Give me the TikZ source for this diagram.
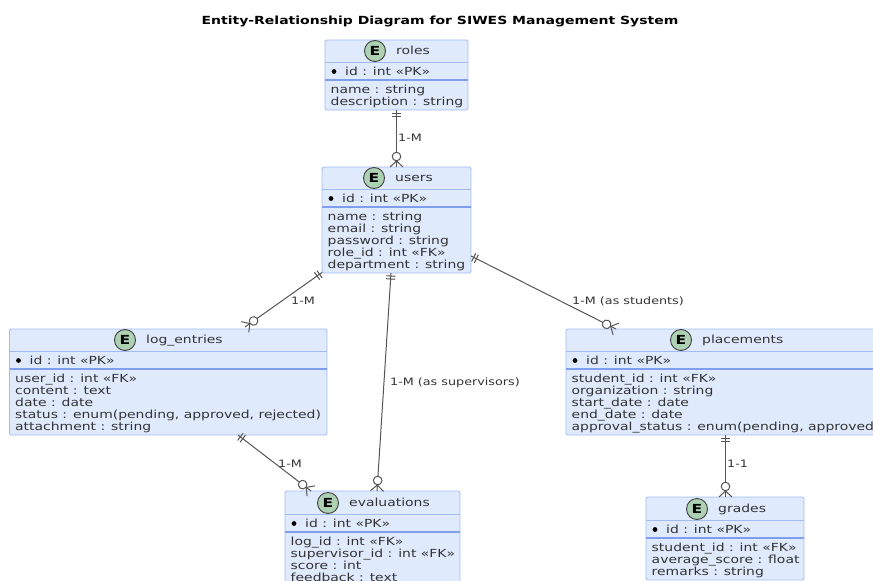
\documentclass[tikz,border=0pt]{standalone}
\usepackage{fontspec}
\setmainfont[FakeStretch=1.25]{DejaVu Sans}
\usetikzlibrary{calc}
\definecolor{boxfill}{HTML}{DFEAFD}
\definecolor{boxline}{HTML}{A3BBF2}
\definecolor{sepline}{HTML}{7F9FEC}
\definecolor{ebadge}{HTML}{ADD1B2}
\definecolor{txt}{HTML}{333333}
\definecolor{conn}{HTML}{555555}
\tikzset{
  x=1pt,y=-1pt,
  ebox/.style={draw=boxline,fill=boxfill,line width=0.9pt,rounded corners=1.5pt,inner sep=0pt,outer sep=0pt},
  ftext/.style={anchor=base west,inner sep=0pt,text=txt,font=\fontsize{11.15pt}{12pt}\selectfont},
  ttext/.style={anchor=base west,inner sep=0pt,text=txt,font=\fontsize{11.15pt}{12pt}\selectfont},
  rlabel/.style={anchor=base west,inner sep=0pt,text=txt,font=\fontsize{10.2pt}{12pt}\selectfont},
  badge/.style={circle,draw=black!75,fill=ebadge,line width=0.9pt,minimum size=21pt,inner sep=0pt,font=\fontsize{12.5pt}{12pt}\selectfont\bfseries},
  rel/.style={draw=conn,line width=1pt},
}
% \entity{name}{x0}{y0}{x1}{y1}{headerline y}{sep y}{badge x}{title}, then {fields}
\newcommand{\entity}[9]{%
  \node[ebox,minimum width=#4pt-#2pt,minimum height=#5pt-#3pt] (#1) at ({(#2+#4)/2},{(#3+#5)/2}) {};
  \draw[boxline,line width=0.8pt] (#1.west |- 0,#6) -- (#1.east |- 0,#6);
  \draw[sepline,line width=1.2pt] (#1.west |- 0,#7) -- (#1.east |- 0,#7);
  \node[badge] (#1-badge) at (#8,#6-11) {E};
  \node[ttext] (#1-title) at (#8+21,#6-7.5) {#9};
  \fill[black] (#2+9,#6+9.5) circle (2.4pt);
  \node[ftext] (#1-pk) at (#2+20,#6+13.5) {id : int «PK»};
  \edef\curbox{#1}\def\curx{#2}\def\cury{#7}%
  \entityfields
}
\newcommand{\entityfields}[1]{%
  \foreach \t [count=\i from 0] in {#1} {
    \node[ftext] (\curbox-f\i) at (\curx+5.5,\cury+13+12.1*\i) {\t};
  }
}
% one-and-only-one at #1, zero-or-many at #2
\newcommand{\erlink}[2]{%
  \draw[rel] (#1) -- (#2);
  \path let \p1=($(#2)-(#1)$), \n1={atan2(\y1,\x1)} in \pgfextra{\xdef\relang{\n1}};
  \begin{scope}[shift={(#1)},rotate=\relang,x=1pt,y=1pt]
    \draw[rel] (3,-4.5) -- (3,4.5) (6,-4.5) -- (6,4.5);
  \end{scope}
  \begin{scope}[shift={(#2)},rotate=\relang,x=1pt,y=1pt]
    \draw[rel] (-6,0) -- (0,-6.5) (-6,0) -- (0,6.5);
    \draw[rel,fill=white] (-10.5,0) circle (4.3pt);
  \end{scope}
}
\begin{document}
\begin{tikzpicture}
\useasboundingbox (0,0) rectangle (873,581);
\clip (0,0) rectangle (873,581);

\node[anchor=base,inner sep=0pt,font=\fontsize{11.2pt}{12pt}\selectfont\bfseries] (title) at (440,24) {Entity-Relationship Diagram for SIWES Management System};

\entity{roles}{325}{40}{468}{110}{62}{80}{375}{roles}
{name : string,description : string}
\entity{users}{322}{167}{471}{273}{189}{207}{374}{users}
{name : string,email : string,password : string,role\_id : int «FK»,department : string}
\entity{logentries}{9.5}{329}{327}{435}{351}{369}{125}{log\_entries}
{user\_id : int «FK»,content : text,date : date,{status : enum(pending, approved, rejected)},attachment : string}
\entity{placements}{566}{329}{905}{435}{351}{369}{681}{placements}
{student\_id : int «FK»,organization : string,start\_date : date,end\_date : date,{approval\_status : enum(pending, approved, rejected)}}
\entity{evaluations}{285}{491}{460}{600}{514}{532}{328}{evaluations}
{log\_id : int «FK»,supervisor\_id : int «FK»,score : int,feedback : text}
\entity{grades}{646}{497}{804}{580}{520}{538}{697}{grades}
{student\_id : int «FK»,average\_score : float,remarks : string}

\coordinate (a1) at (396.5,110);  \coordinate (b1) at (396.5,167);
\coordinate (a2) at (322,272.5);  \coordinate (b2) at (245,327);
\coordinate (a3) at (391,273);    \coordinate (b3) at (377,491);
\coordinate (a4) at (471,256);    \coordinate (b4) at (616,329);
\coordinate (a5) at (238,435);    \coordinate (b5) at (311,491);
\coordinate (a6) at (725.5,435);  \coordinate (b6) at (725.5,497);

\erlink{a1}{b1}
\erlink{a2}{b2}
\erlink{a3}{b3}
\erlink{a4}{b4}
\erlink{a5}{b5}
\erlink{a6}{b6}

\node[rlabel] (l1) at (398,141) {1-M};
\node[rlabel] (l2) at (291,304) {1-M};
\node[rlabel] (l3) at (390,385) {1-M (as supervisors)};
\node[rlabel] (l4) at (572,304) {1-M (as students)};
\node[rlabel] (l5) at (278,467) {1-M};
\node[rlabel] (l6) at (727,467) {1-1};
\end{tikzpicture}
\end{document}
